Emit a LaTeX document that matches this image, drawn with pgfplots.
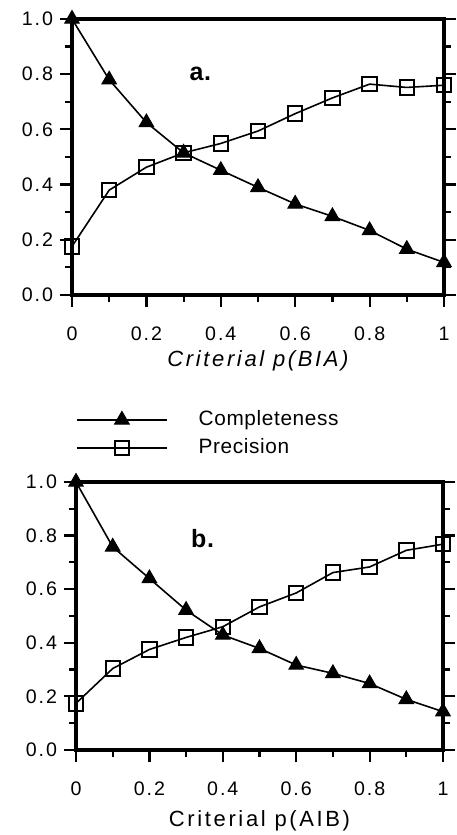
\documentclass[border=0pt]{standalone}
\usepackage{pgfplots}
\pgfplotsset{compat=1.18}
\usepackage{fontspec}
\setmainfont{Liberation Sans}[LetterSpace=3]
\newfontfamily\tickfont{Liberation Sans}[LetterSpace=10]
\newfontfamily\labfont{Liberation Sans}[LetterSpace=12]
\pgfplotstableread{
x comp prec
0   1.000 0.176
0.1 0.780 0.380
0.2 0.625 0.463
0.3 0.515 0.515
0.4 0.452 0.549
0.5 0.390 0.594
0.6 0.330 0.657
0.7 0.285 0.714
0.8 0.234 0.764
0.9 0.166 0.752
1.0 0.118 0.760
}\dataA
\pgfplotstableread{
x comp prec
0   1.000 0.174
0.1 0.758 0.304
0.2 0.640 0.375
0.3 0.522 0.420
0.4 0.429 0.460
0.5 0.379 0.534
0.6 0.317 0.586
0.7 0.286 0.662
0.8 0.248 0.683
0.9 0.189 0.745
1.0 0.143 0.768
}\dataB
\begin{document}
\begin{tikzpicture}
\useasboundingbox (0,0) rectangle (228pt,417.5pt);
\pgfplotsset{myax/.style={
  scale only axis, anchor=south west,
  xmin=0, xmax=1, ymin=0, ymax=1,
  xtick={0,0.2,0.4,0.6,0.8,1}, xticklabels={0,0.2,0.4,0.6,0.8,1},
  ytick={0,0.2,0.4,0.6,0.8,1}, yticklabels={0.0,0.2,0.4,0.6,0.8,1.0},
  minor xtick={0.1,0.3,0.5,0.7,0.9}, minor ytick={0.1,0.3,0.5,0.7,0.9},
  xtick pos=bottom, ytick pos=both, yticklabel pos=left, tick align=outside,
  major tick length=6pt, minor tick length=3.5pt,
  axis line style={line width=2.3pt},
  tick style={line width=1.1pt, black},
  tick label style={font=\tickfont\fontsize{9.8}{11}\selectfont},
  xticklabel style={anchor=north, yshift=-6.5pt},
  clip=false,
  legend image code/.code={\draw[mark repeat=2,mark phase=2,##1] plot coordinates {(0pt,0pt) (22.5pt,0pt) (45pt,0pt)};},
}}
\pgfplotsset{compl/.style={black, line width=0.8pt, mark=triangle*, mark size=4.2pt, mark options={fill=black, line width=0.5pt}},
  precs/.style={black, line width=0.8pt, mark=square, mark size=3.6pt, mark options={fill=white, line width=1pt}}}
\begin{axis}[myax, at={(36pt,270pt)}, width=186pt, height=138pt,
  xlabel={\labfont\itshape Criterial p(BIA)},
  xlabel style={font=\fontsize{11}{13}\selectfont, at={(axis description cs:0.5,0)}, anchor=center, yshift=-33pt},
  legend style={at={(0.01,-0.40)}, anchor=north west, draw=none, fill=none,
    font=\fontsize{10.4}{12}\selectfont, row sep=0pt, inner sep=0pt,
    nodes={inner xsep=15.5pt, inner ysep=2.5pt}},
  legend cell align=left]
\addplot[compl] table[x=x,y=comp] {\dataA};
\addlegendentry{Completeness}
\addplot[precs] table[x=x,y=prec] {\dataA};
\addlegendentry{Precision}
\node[font=\bfseries\fontsize{12.5}{14}\selectfont] at (axis cs:0.345,0.80) {a.};
\end{axis}
\begin{axis}[myax, at={(38pt,42.5pt)}, width=183.5pt, height=134pt,
  xlabel={\labfont Criterial p(AIB)},
  xlabel style={font=\fontsize{11}{13}\selectfont, at={(axis description cs:0.5,0)}, anchor=center, yshift=-35.5pt}]
\addplot[compl] table[x=x,y=comp] {\dataB};
\addplot[precs] table[x=x,y=prec] {\dataB};
\node[font=\bfseries\fontsize{12.5}{14}\selectfont] at (axis cs:0.345,0.79) {b.};
\end{axis}
\end{tikzpicture}
\end{document}
